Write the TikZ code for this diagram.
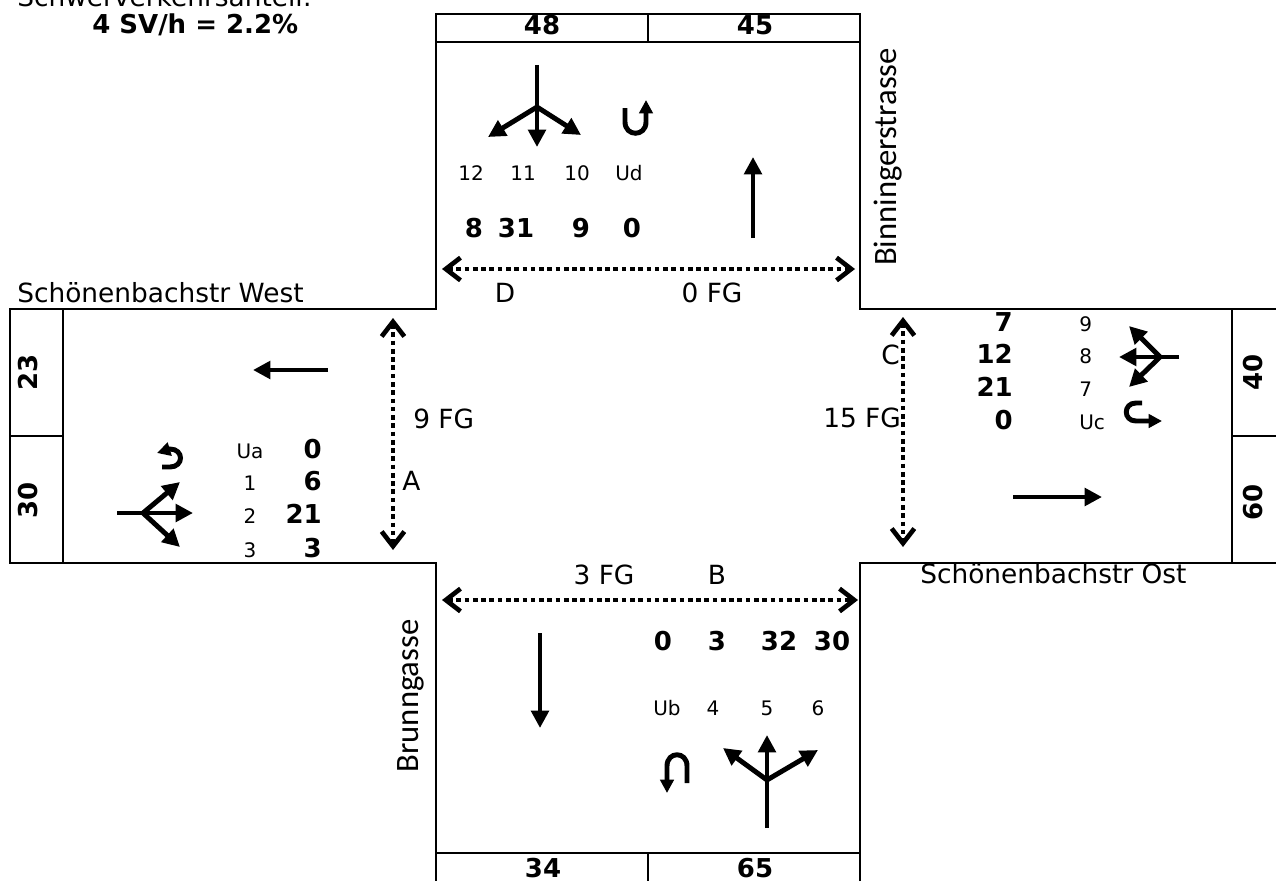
\documentclass[tikz,border=0pt]{standalone}
\usepackage{fontspec}
\setmainfont{DejaVu Sans}
\newfontfamily\streetfont{Carlito}
\usetikzlibrary{arrows.meta}

\begin{document}
\begin{tikzpicture}[x=0.75pt, y=-0.75pt,
    edge/.style={line width=2.2pt},
    stem/.style={line width=3.7pt},
    flow/.style={line width=3.7pt, -{Triangle[length=13pt, width=13pt]}},
    uturn/.style={line width=3.7pt, -{Triangle[length=10pt, width=10pt]}},
    ped/.style={line width=3.5pt, dash pattern=on 3.5pt off 2.7pt,
      {Straight Barb[length=11pt, width=17pt]}-{Straight Barb[length=11pt, width=17pt]}},
    txt/.style={inner sep=0pt, anchor=base, font=\fontsize{19.8}{20}\selectfont},
    cnt/.style={inner sep=0pt, anchor=base, font=\fontsize{19.5}{20}\bfseries},
    lane/.style={inner sep=0pt, anchor=base, font=\fontsize{15}{16}\selectfont},
    street/.style={inner sep=0pt, rotate=90, font=\fontsize{24.5}{25}\streetfont}
  ]
  \useasboundingbox (0,0) rectangle (1276,881);

  % Heavy traffic share
  \node[txt, anchor=base west] (hvtitle) at (17,7) {Schwerverkehrsanteil:};
  \node[cnt, anchor=base west] (hvshare) at (92,34) {4 SV/h = 2.2\%};

  % Road outline
  \draw[edge] (10,309) -- (436,309) -- (436,14) -- (860,14) -- (860,309) -- (1276,309);
  \draw[edge] (10,563) -- (436,563) -- (436,881);
  \draw[edge] (860,881) -- (860,563) -- (1276,563);

  % Count boxes
  \draw[edge] (436,42) -- (860,42) (648,14) -- (648,42);
  \draw[edge] (436,853) -- (860,853) (648,853) -- (648,881);
  \draw[edge] (10,309) rectangle (63,563) (10,436) -- (63,436);
  \draw[edge] (1232,309) -- (1232,563) (1232,436) -- (1276,436);

  \node[cnt] (inD) at (542,35) {48};
  \node[cnt] (outD) at (755,35) {45};
  \node[cnt] (outB) at (543,877) {34};
  \node[cnt] (inB) at (755,877) {65};
  \node[cnt, rotate=90] (outA) at (37.5,372) {23};
  \node[cnt, rotate=90] (inA) at (37.5,500) {30};
  \node[cnt, rotate=90] (inC) at (1262.5,372) {40};
  \node[cnt, rotate=90] (outC) at (1262.5,502) {60};

  % Street names
  \node[txt, anchor=base west] (west) at (17,302) {Schönenbachstr West};
  \node[txt, anchor=base west] (east) at (920,583) {Schönenbachstr Ost};
  \node[street] (north) at (888,157) {Binningerstrasse};
  \node[street] (south) at (411,696) {Brunngasse};

  % Arm D (north)
  \coordinate (forkD) at (537,107);
  \draw[stem] (537,65) -- (forkD);
  \draw[flow] (forkD) -- (537,147);
  \draw[flow] (forkD) -- (488,137);
  \draw[flow] (forkD) -- (581,135);
  \draw[uturn] (625,108) -- (625,122) .. controls (625,137) and (646,137) .. (646,122) -- (646,100);
  \draw[flow] (753,238) -- (753,157);
  \foreach \x/\lab in {471/12, 523/11, 577/10, 629/Ud}
    \node[lane] (d\lab) at (\x,180) {\lab};
  \foreach \x/\lab/\val in {474/12/8, 516/11/31, 581/10/9, 632/Ud/0}
    \node[cnt] (qd\lab) at (\x,237) {\val};

  % Arm A (west)
  \coordinate (forkA) at (143,513);
  \draw[stem] (117,513) -- (forkA);
  \draw[flow] (forkA) -- (193,513);
  \draw[flow] (forkA) -- (180,482);
  \draw[flow] (forkA) -- (180,547);
  \draw[uturn] (162,467) -- (170,467) .. controls (184,467) and (184,449) .. (170,449) -- (157,453);
  \draw[flow] (328,370) -- (253,370);
  \foreach \yy/\lab/\val in {458/Ua/0, 490/1/6, 523/2/21, 557/3/3} {
    \node[lane] (a\lab) at (250,\yy) {\lab};
    \node[cnt, anchor=base east] (qa\lab) at (322,\yy) {\val};
  }

  % Arm C (east)
  \coordinate (forkC) at (1160,357);
  \draw[stem] (1179,357) -- (forkC);
  \draw[flow] (forkC) -- (1119,357);
  \draw[flow] (forkC) -- (1129,326);
  \draw[flow] (forkC) -- (1129,387);
  \draw[uturn] (1142,403) -- (1136,403) .. controls (1123,403) and (1123,421) .. (1136,421) -- (1162,421);
  \draw[flow] (1013,497) -- (1102,497);
  \foreach \yy/\lab/\val in {331/9/7, 363/8/12, 396/7/21, 429/Uc/0} {
    \node[cnt, anchor=base east] (qc\lab) at (1013,\yy) {\val};
    \node[lane, anchor=base west] (c\lab) at (1079,\yy) {\lab};
  }

  % Arm B (south)
  \coordinate (forkB) at (767,780);
  \draw[stem] (767,828) -- (forkB);
  \draw[flow] (forkB) -- (767,735);
  \draw[flow] (forkB) -- (723,748);
  \draw[flow] (forkB) -- (818,750);
  \draw[uturn] (687,783) -- (687,766) .. controls (687,751) and (667,751) .. (667,766) -- (667,793);
  \draw[flow] (540,633) -- (540,728);
  \foreach \xv/\xl/\lab/\val in {663/667/Ub/0, 717/713/4/3, 779/767/5/32, 832/818/6/30} {
    \node[cnt] (qb\lab) at (\xv,650) {\val};
    \node[lane] (b\lab) at (\xl,715) {\lab};
  }

  % Pedestrian crossings
  \draw[ped] (442,269) -- (855,269);
  \draw[ped] (442,600) -- (858,600);
  \draw[ped] (393,318) -- (393,550);
  \draw[ped] (903,317) -- (903,547);
  \node[txt] (walkD) at (505,302) {D};
  \node[txt] (fgD) at (712,302) {0 FG};
  \node[txt] (fgB) at (604,584) {3 FG};
  \node[txt] (walkB) at (717,584) {B};
  \node[txt, anchor=base west] (fgA) at (413,428) {9 FG};
  \node[txt, anchor=base west] (walkA) at (402,490) {A};
  \node[txt, anchor=base west] (fgC) at (823,427) {15 FG};
  \node[txt, anchor=base east] (walkC) at (900,364) {C};
\end{tikzpicture}
\end{document}
